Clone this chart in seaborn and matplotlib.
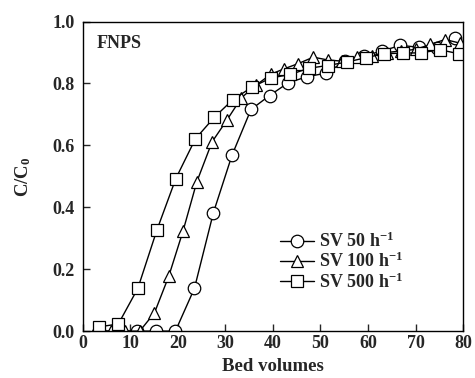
import matplotlib
matplotlib.use("Agg")
import matplotlib.pyplot as plt
import seaborn as sns

# === data ===
sv50_x = [3.5, 7.5, 11.4, 15.5, 19.5, 23.5, 27.5, 31.4, 35.4, 39.3, 43.2, 47.2, 51.1, 55.2, 59.1, 63.0, 66.8, 70.7, 74.6, 78.3]
sv50_y = [0.0, 0.0, 0.0, 0.0, 0.0, 0.138, 0.383, 0.568, 0.716, 0.761, 0.802, 0.822, 0.833, 0.872, 0.889, 0.905, 0.923, 0.917, 0.915, 0.947]

sv100_x = [2.5, 6.0, 7.5, 9.0, 12.0, 15.1, 18.1, 21.1, 24.0, 27.2, 30.3, 33.4, 36.5, 39.6, 42.3, 45.3, 48.5, 51.5, 54.6, 57.6, 60.9, 63.9, 67.0, 70.0, 73.1, 76.2, 79.4]
sv100_y = [0.0, 0.0, 0.0, 0.0, 0.0, 0.059, 0.177, 0.323, 0.482, 0.611, 0.681, 0.754, 0.795, 0.83, 0.847, 0.864, 0.885, 0.876, 0.872, 0.885, 0.89, 0.9, 0.905, 0.91, 0.926, 0.942, 0.93]

sv500_x = [3.5, 7.5, 11.6, 15.6, 19.6, 23.7, 27.7, 31.6, 35.6, 39.6, 43.7, 47.5, 51.5, 55.5, 59.5, 63.3, 67.3, 71.2, 75.1, 79.1]
sv500_y = [0.014, 0.023, 0.138, 0.326, 0.493, 0.621, 0.691, 0.748, 0.788, 0.818, 0.829, 0.849, 0.858, 0.869, 0.883, 0.896, 0.898, 0.899, 0.909, 0.896]

labels = [r"SV 50 h$^{\mathbf{-1}}$", r"SV 100 h$^{\mathbf{-1}}$", r"SV 500 h$^{\mathbf{-1}}$"]

# === style ===
sns.set_style("ticks")
plt.rcParams["font.family"] = ["Liberation Serif", "DejaVu Serif"]
plt.rcParams["font.weight"] = "bold"
plt.rcParams["mathtext.fontset"] = "custom"
plt.rcParams["mathtext.rm"] = "Liberation Serif:bold"
plt.rcParams["mathtext.bf"] = "Liberation Serif:bold"
plt.rcParams["mathtext.it"] = "Liberation Serif:bold"

fig, ax = plt.subplots(figsize=(4.75, 3.78), dpi=100)
fig.subplots_adjust(left=0.174, right=0.975, top=0.943, bottom=0.124)

common = dict(color="black", linewidth=1.0, markerfacecolor="white",
              markeredgecolor="black", markeredgewidth=0.9, sort=False)

sns.lineplot(x=sv50_x, y=sv50_y, marker="o", markersize=9, label=labels[0], ax=ax, **common)
sns.lineplot(x=sv100_x, y=sv100_y, marker="^", markersize=8, label=labels[1], ax=ax, **common)
sns.lineplot(x=sv500_x, y=sv500_y, marker="s", markersize=8.3, label=labels[2], ax=ax, **common)

ax.set_xlim(0, 80)
ax.set_ylim(0, 1.0)
ax.set_xticks(range(0, 81, 10))
ax.set_yticks([0.0, 0.2, 0.4, 0.6, 0.8, 1.0])
ax.set_yticklabels(["0.0", "0.2", "0.4", "0.6", "0.8", "1.0"])
ax.tick_params(direction="in", length=5, width=1, labelsize=13)
ax.tick_params(axis="y", pad=6)
ax.tick_params(axis="x", pad=3)
for lab in ax.get_xticklabels() + ax.get_yticklabels():
    lab.set_fontweight("bold")
for s in ax.spines.values():
    s.set_linewidth(1.0)
    s.set_color("black")

ax.set_xlabel("Bed volumes", fontsize=13.5, fontweight="bold", labelpad=4)
ax.set_ylabel(r"C/C$_{\mathbf{0}}$", fontsize=13.5, fontweight="bold", labelpad=14)

ax.text(0.038, 0.955, "FNPS", transform=ax.transAxes, fontsize=13, fontweight="bold",
        va="top", ha="left")

leg = ax.legend(loc="upper left", bbox_to_anchor=(0.5, 0.345), frameon=False,
                fontsize=13, handlelength=1.9, handletextpad=0.25,
                labelspacing=0.05, borderaxespad=0)

plt.savefig("out.png", dpi=100)
plt.close()
